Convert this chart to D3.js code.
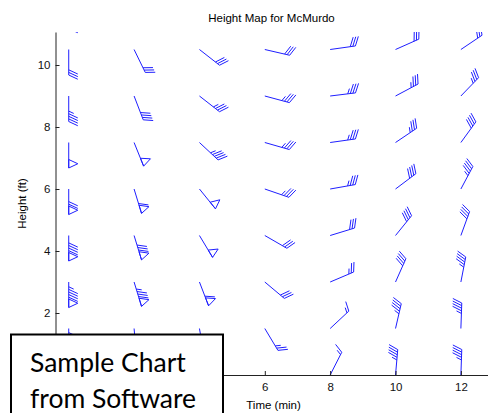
<!DOCTYPE html>
<html>
<head>
<meta charset="utf-8">
<script src="https://cdn.jsdelivr.net/npm/d3@7"></script>
<style>
  body { margin: 0; background: #fff; }
  svg { display: block; font-family: "Liberation Sans", Arial, sans-serif; }
</style>
</head>
<body>
<div id="chart-container"></div>
<script>
// sample times (min) and heights (ft) of the barb grid
const times = [0, 2, 4, 6, 8, 10, 12];
const heights = [0, 1.5, 3, 4.5, 6, 7.5, 9, 10.5, 12];

// wind direction in degrees (where it blows from), one list per time, bottom to top
const dirT0 = [180, 180, 180, 180, 180, 180, 180, 180, 180];
const dirT2 = [175, 175, 163, 163, 163, 158, 159, 154, 154];
const dirT4 = [170, 170, 159, 149, 141, 133, 128, 128, 128];
const dirT6 = [160, 149, 130, 120, 109, 106, 105, 103, 103];
const dirT8 = [27, 47, 67, 73, 80, 82, 83, 82, 82];
const dirT10 = [5, 13, 24, 39, 53, 56, 62, 66, 66];
const dirT12 = [2, 2, 11, 20, 28, 36, 44, 56, 56];

// wind speed in knots, same layout
const spdT0 = [120, 120, 95, 90, 70, 50, 45, 30, 30];
const spdT2 = [90, 90, 85, 80, 60, 50, 40, 30, 30];
const spdT4 = [60, 60, 60, 50, 50, 45, 35, 30, 30];
const spdT6 = [25, 25, 30, 30, 35, 35, 35, 30, 30];
const spdT8 = [15, 15, 25, 30, 35, 35, 35, 30, 30];
const spdT10 = [45, 45, 40, 40, 40, 35, 35, 30, 30];
const spdT12 = [45, 45, 45, 40, 45, 40, 35, 30, 30];

// ticks left of 6 min and below 2 ft sit under the watermark box
const xTicks = [6, 8, 10, 12];
const yTicks = [2, 4, 6, 8, 10];

const dirs = [dirT0, dirT2, dirT4, dirT6, dirT8, dirT10, dirT12];
const spds = [spdT0, spdT2, spdT4, spdT6, spdT8, spdT10, spdT12];

const w = 488;
const h = 413;
const padLeft = 55, padRight = 488, padTop = 32, padBottom = 375;

const xScale = d3.scaleLinear().domain([-0.42, 12.83]).range([padLeft, padRight]);
const yScale = d3.scaleLinear().domain([0, 11.065]).range([padBottom, padTop]);

const svg = d3.select("#chart-container")
              .append("svg")
              .attr("width", w).attr("height", h);

svg.append("clipPath").attr("id", "plot-clip")
   .append("rect")
   .attr("x", padLeft).attr("y", padTop)
   .attr("width", padRight - padLeft).attr("height", padBottom - padTop);

// flatten the grid
const cells = [];
times.forEach(function(t, i) {
  heights.forEach(function(hh, j) {
    cells.push({ t: t, h: hh, dir: dirs[i][j], spd: spds[i][j] });
  });
});

// barb geometry in pixels
const staffLen = 25.5;
const barbLen = 10;
const flagW = 8.5;
const barbGap = 2.6;
const barbTurn = 65 * Math.PI / 180;

function barbShapes(d) {
  const x0 = xScale(d.t), y0 = yScale(d.h);
  const a = d.dir * Math.PI / 180;
  const ux = Math.sin(a), uy = -Math.cos(a);
  const phi = Math.atan2(uy, ux) - barbTurn;
  const bx = Math.cos(phi) * barbLen, by = Math.sin(phi) * barbLen;
  const pt = function(s) { return [x0 + ux * s, y0 + uy * s]; };

  const lines = [[pt(0), pt(staffLen)]];
  const flags = [];
  const n50 = Math.floor(d.spd / 50);
  const rest = d.spd - n50 * 50;
  const n10 = Math.floor(rest / 10);
  const n5 = rest % 10 >= 5 ? 1 : 0;

  let pos = staffLen;
  for (let i = 0; i < n50; i++) {
    const p = pt(pos), q = pt(pos - flagW);
    flags.push([p, [q[0] + bx, q[1] + by], q]);
    pos -= flagW;
  }
  if (n50 > 0 && (n10 + n5) > 0) pos -= barbGap * 0.7;
  for (let i = 0; i < n10; i++) {
    const p = pt(pos);
    lines.push([p, [p[0] + bx, p[1] + by]]);
    pos -= barbGap;
  }
  if (n5) {
    if (pos === staffLen) pos -= barbGap;
    const p = pt(pos);
    lines.push([p, [p[0] + bx * 0.55, p[1] + by * 0.55]]);
  }
  return { lines: lines, flags: flags };
}

const barbs = svg.append("g").attr("clip-path", "url(#plot-clip)")
                 .selectAll("g").data(cells).enter().append("g")
                 .attr("class", "barb");

const line = d3.line();

barbs.each(function(d) {
  const s = barbShapes(d);
  const g = d3.select(this);
  g.selectAll("path.stroke").data(s.lines).enter().append("path")
   .attr("class", "stroke")
   .attr("d", (p) => line(p))
   .attr("fill", "none")
   .attr("stroke", "#1f1fff")
   .attr("stroke-width", 1);
  g.selectAll("path.flag").data(s.flags).enter().append("path")
   .attr("class", "flag")
   .attr("d", (p) => line(p) + "Z")
   .attr("fill", "none")
   .attr("stroke", "#1f1fff")
   .attr("stroke-width", 1);
});

// axes, ticks point inward like the original
const xAxis = d3.axisBottom(xScale).tickValues(xTicks)
                .tickSizeInner(-4).tickSizeOuter(0).tickPadding(8);
const yAxis = d3.axisLeft(yScale).tickValues(yTicks)
                .tickSizeInner(-4).tickSizeOuter(0).tickPadding(5);

svg.append("g").attr("transform", "translate(0, " + padBottom + ")")
   .attr("id", "x-axis")
   .call(xAxis);

svg.append("g").attr("transform", "translate(" + (padLeft + 0.5) + ", 0)")
   .attr("id", "y-axis")
   .call(yAxis);

svg.selectAll(".domain").attr("stroke", "#222");
svg.selectAll(".tick line").attr("stroke", "#222");
svg.selectAll(".tick text")
   .style("font-size", "11.5px")
   .style("font-family", "'Liberation Sans', Arial, sans-serif")
   .attr("fill", "#111");

// title and axis labels
svg.append("text")
   .attr("text-anchor", "middle")
   .attr("x", (padLeft + padRight) / 2)
   .attr("y", 22)
   .style("font-size", "11.5px")
   .text("Height Map for McMurdo");

svg.append("text")
   .attr("text-anchor", "middle")
   .attr("x", (padLeft + padRight) / 2 + 2)
   .attr("y", 409)
   .style("font-size", "11.5px")
   .text("Time (min)");

svg.append("text")
   .attr("text-anchor", "middle")
   .attr("transform", "rotate(-90)")
   .attr("x", -(padTop + padBottom) / 2)
   .attr("y", 26)
   .style("font-size", "11.5px")
   .text("Height (ft)");

// watermark box
svg.append("rect")
   .attr("x", 11).attr("y", 334.5)
   .attr("width", 212).attr("height", 100)
   .attr("fill", "#fff")
   .attr("stroke", "#000")
   .attr("stroke-width", 2);

svg.append("text")
   .attr("x", 30).attr("y", 371.5)
   .style("font-family", "Lato, 'Open Sans', sans-serif")
   .style("font-size", "26.5px")
   .text("Sample Chart");

svg.append("text")
   .attr("x", 30).attr("y", 408)
   .style("font-family", "Lato, 'Open Sans', sans-serif")
   .style("font-size", "26.5px")
   .text("from Software");
</script>
</body>
</html>
